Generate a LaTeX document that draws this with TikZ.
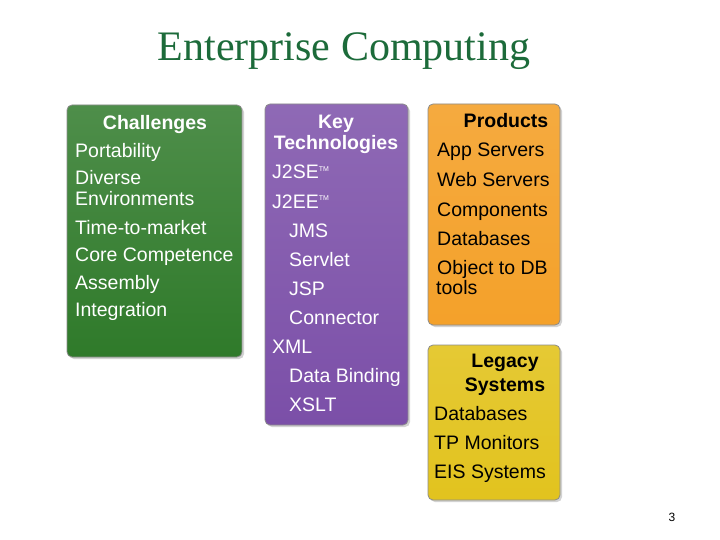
\documentclass[tikz,border=0pt]{standalone}
\usepackage{fontspec}
\setmainfont{Liberation Sans}
\newfontfamily\titlefont{Liberation Serif}
\usetikzlibrary{shadows}
\definecolor{gbox}{HTML}{2F7A2A}
\definecolor{pbox}{HTML}{7B4FA8}
\definecolor{obox}{HTML}{F4A12A}
\definecolor{ybox}{HTML}{E2C31E}
\definecolor{ttl}{HTML}{1C6B3A}
\begin{document}
\begin{tikzpicture}[x=1pt,y=-1pt,
  panel/.style={rounded corners=5pt,draw=black!45,line width=0.8pt,drop shadow={shadow xshift=2pt,shadow yshift=-2pt,opacity=0.35}},
  itm/.style={anchor=base west,font=\fontsize{19.5}{21}\selectfont,inner sep=0pt,yshift=-7pt},
  hd/.style={anchor=base,font=\fontsize{19.5}{21}\selectfont\bfseries,inner sep=0pt,yshift=-7pt}]
\useasboundingbox (0,0) rectangle (720,540);
\fill[white] (0,0) rectangle (720,540);
\node[font=\titlefont\fontsize{42}{44}\selectfont,text=ttl] (title) at (344,51) {Enterprise Computing};
\path[panel,top color=gbox!85!white,bottom color=gbox] (67,105) rectangle (242,357);
\path[panel,top color=pbox!85!white,bottom color=pbox] (265,104) rectangle (408,425);
\path[panel,top color=obox!90!white,bottom color=obox] (428,104) rectangle (560,325);
\path[panel,top color=ybox!90!white,bottom color=ybox] (428,345) rectangle (560,500);
% green
\node[hd,text=white] (g0) at (155,123) {Challenges};
\foreach \t/\y [count=\i] in {Portability/151,Diverse/178,Environments/199,Time-to-market/227,Core Competence/254,Assembly/282,Integration/309}
  \node[itm,text=white] (g\i) at (75,\y) {\t};
% purple
\node[hd,text=white] (p0) at (336,122) {Key};
\node[hd,text=white] (p00) at (336,143) {Technologies};
\foreach \t/\x/\y [count=\i] in {J2SE\textsuperscript{\scriptsize TM}/272/172,J2EE\textsuperscript{\scriptsize TM}/272/201,JMS/289/230,Servlet/289/259,JSP/289/288,Connector/289/317,XML/272/346,Data Binding/289/375,XSLT/289/404}
  \node[itm,text=white] (p\i) at (\x,\y) {\t};
% orange
\node[hd] (o0) at (506,121) {Products};
\foreach \t/\x/\y [count=\i] in {App Servers/437/150,Web Servers/437/180,Components/437/209,Databases/437/238,Object to DB/437/267,tools/436/287}
  \node[itm] (o\i) at (\x,\y) {\t};
% yellow
\node[hd] (y0) at (505,360) {Legacy};
\node[hd] (y00) at (505,384) {Systems};
\foreach \t/\y [count=\i] in {Databases/413,TP Monitors/442,EIS Systems/471}
  \node[itm] (y\i) at (434,\y) {\t};
\node[font=\fontsize{12}{14}\selectfont] (pg) at (672,517) {3};
\end{tikzpicture}
\end{document}
